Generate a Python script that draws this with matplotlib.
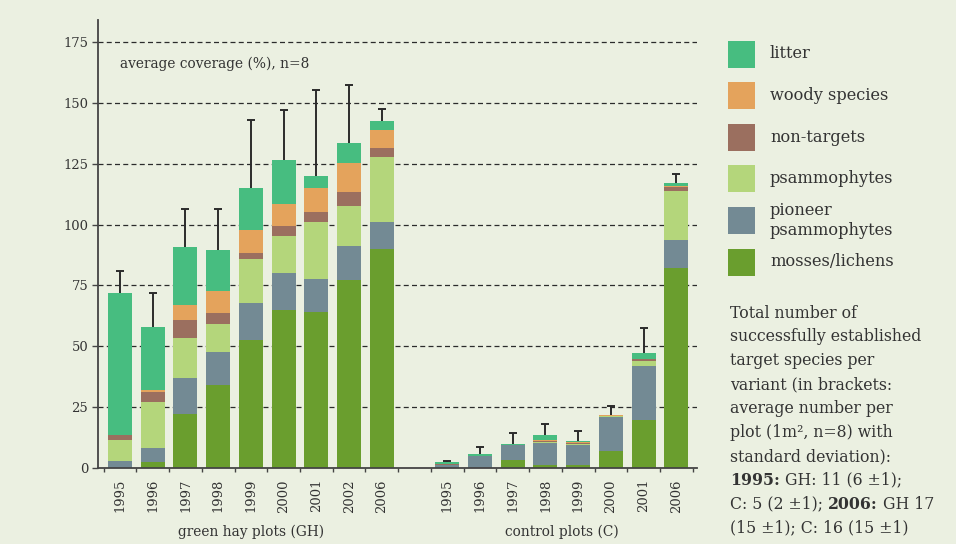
import matplotlib
matplotlib.use("Agg")
import matplotlib.pyplot as plt
from matplotlib import font_manager
from matplotlib.patches import Rectangle

# data (coverage in %, stacked bottom -> top)
gh_years = ["1995", "1996", "1997", "1998", "1999", "2000", "2001", "2002", "2006"]
c_years = ["1995", "1996", "1997", "1998", "1999", "2000", "2001", "2006"]

gh_mosses = [0.0, 2.5, 22.3, 34.1, 52.7, 65.0, 64.2, 77.4, 90.0]
gh_pioneer = [2.9, 5.7, 14.7, 13.6, 15.1, 15.1, 13.4, 13.8, 11.1]
gh_psamm = [8.6, 18.9, 16.4, 11.5, 18.1, 15.2, 23.5, 16.4, 26.7]
gh_nontarget = [2.1, 4.3, 7.4, 4.5, 2.4, 4.1, 4.1, 5.8, 3.7]
gh_woody = [0.0, 0.8, 6.2, 9.0, 9.5, 9.1, 9.8, 11.9, 7.4]
gh_litter = [58.2, 25.7, 23.8, 16.9, 17.2, 18.0, 5.0, 8.2, 3.7]
gh_sd = [9.2, 14.1, 15.7, 16.7, 27.8, 20.5, 35.2, 23.7, 4.9]

c_mosses = [0.0, 0.0, 3.3, 1.1, 1.1, 7.0, 19.7, 82.3]
c_pioneer = [1.2, 4.9, 6.1, 9.2, 8.3, 14.0, 22.2, 11.4]
c_psamm = [0.0, 0.0, 0.0, 0.5, 0.5, 0.3, 2.1, 20.1]
c_nontarget = [0.6, 0.0, 0.0, 0.2, 0.2, 0.1, 0.8, 1.8]
c_woody = [0.0, 0.0, 0.0, 0.3, 0.5, 0.3, 0.1, 0.4]
c_litter = [0.7, 0.8, 0.4, 2.3, 0.5, 0.1, 2.3, 1.1]
c_sd = [0.2, 2.8, 4.6, 4.6, 4.1, 3.8, 10.5, 3.7]

legend_labels = ["litter", "woody species", "non-targets", "psammophytes",
                 "pioneer\npsammophytes", "mosses/lichens"]

BG = "#ebf0e1"
TXT = "#333333"
col_mosses = "#6a9e2e"
col_pioneer = "#738a94"
col_psamm = "#b4d67b"
col_nontarget = "#9b6f5f"
col_woody = "#e4a35c"
col_litter = "#47bd80"

names = {f.name for f in font_manager.fontManager.ttflist}
if "DejaVu Serif Condensed" in names:
    SERIF = "DejaVu Serif Condensed"
    k = 1.0
else:
    SERIF = "DejaVu Serif"
    k = 0.9
plt.rcParams["font.family"] = [SERIF, "DejaVu Serif"]

fig = plt.figure(figsize=(9.56, 5.44), dpi=100, facecolor=BG)
ax = fig.add_axes([98 / 956, 76 / 544, (697 - 98) / 956, 448 / 544])
ax.set_facecolor(BG)

gh_x = list(range(len(gh_years)))
c_x = [10 + i for i in range(len(c_years))]
xs = gh_x + c_x
layers = [
    (gh_mosses + c_mosses, col_mosses),
    (gh_pioneer + c_pioneer, col_pioneer),
    (gh_psamm + c_psamm, col_psamm),
    (gh_nontarget + c_nontarget, col_nontarget),
    (gh_woody + c_woody, col_woody),
    (gh_litter + c_litter, col_litter),
]
bottom = [0.0] * len(xs)
for vals, col in layers:
    ax.bar(xs, vals, width=0.733, bottom=bottom, color=col, linewidth=0, zorder=3)
    bottom = [b + v for b, v in zip(bottom, vals)]

# one-sided error bars: line up from the stack top, cap only at the upper end
sd = gh_sd + c_sd
tops = [b + s for b, s in zip(bottom, sd)]
ax.vlines(xs, bottom, tops, color="#2b2b2b", lw=1.4, zorder=4)
ax.plot(xs, tops, linestyle="none", marker="_", markersize=5.5, markeredgewidth=1.4,
        color="#2b2b2b", zorder=4)

for yv in [25, 50, 75, 100, 125, 150, 175]:
    ax.axhline(yv, color="#2b2b2b", lw=0.9, linestyle=(0, (4, 2.6)), zorder=1)

ax.set_xlim(-0.672, 17.63)
ax.set_ylim(0, 184)
ax.set_yticks([0, 25, 50, 75, 100, 125, 150, 175])
ax.set_xticks(xs)
ax.set_xticklabels(gh_years + c_years, rotation=90, fontsize=10.5 * k, color=TXT)
ax.tick_params(axis="x", which="major", length=0, pad=8)
ax.set_xticks([i - 0.5 for i in range(10)] + [i + 9.5 for i in range(9)], minor=True)
ax.tick_params(axis="x", which="minor", length=3, width=1, color="#444444", direction="out")
ax.tick_params(axis="y", length=4, width=1, color="#444444", labelsize=10.5 * k,
               labelcolor=TXT, pad=3)
for s in ["top", "right"]:
    ax.spines[s].set_visible(False)
for s in ["left", "bottom"]:
    ax.spines[s].set_color("#444444")
    ax.spines[s].set_linewidth(1.3)
    ax.spines[s].set_zorder(5)

ax.text(0.0, 166, "average coverage (%), n=8", fontsize=11 * k, color=TXT, va="center")
ax.text(4, -0.143, "green hay plots (GH)", transform=ax.get_xaxis_transform(),
        ha="center", va="center", fontsize=11 * k, color=TXT)
ax.text(13.5, -0.143, "control plots (C)", transform=ax.get_xaxis_transform(),
        ha="center", va="center", fontsize=11 * k, color=TXT)

# legend and side note drawn in pixel coordinates
ov = fig.add_axes([0, 0, 1, 1])
ov.set_xlim(0, 956)
ov.set_ylim(544, 0)
ov.axis("off")

leg_cols = [col_litter, col_woody, col_nontarget, col_psamm, col_pioneer, col_mosses]
for i, (lab, col) in enumerate(zip(legend_labels, leg_cols)):
    yc = 54 + 41.6 * i
    ov.add_patch(Rectangle((728, yc - 13.5), 27, 27, color=col, lw=0))
    ov.text(770, yc, lab, fontsize=13 * k, color=TXT, va="center", linespacing=1.2)

note = [
    [("Total number of", "normal")],
    [("successfully established", "normal")],
    [("target species per", "normal")],
    [("variant (in brackets:", "normal")],
    [("average number per", "normal")],
    [("plot (1m², n=8) with", "normal")],
    [("standard deviation):", "normal")],
    [("1995:", "bold"), (" GH: 11 (6 ±1);", "normal")],
    [("C: 5 (2 ±1); ", "normal"), ("2006:", "bold"), (" GH 17", "normal")],
    [("(15 ±1); C: 16 (15 ±1)", "normal")],
]
NOTE_FS = 12.6 * k
r = fig.canvas.get_renderer()


def advance(s, w):
    t1 = ov.text(0, 0, "|" + s + "|", fontsize=NOTE_FS, fontweight=w)
    t2 = ov.text(0, 0, "||", fontsize=NOTE_FS, fontweight=w)
    a = t1.get_window_extent(renderer=r).width - t2.get_window_extent(renderer=r).width
    t1.remove()
    t2.remove()
    return a


for i, runs in enumerate(note):
    x = 730
    y = 317.5 + 23.9 * i
    for s, w in runs:
        ov.text(x, y, s, fontsize=NOTE_FS, fontweight=w, color=TXT, va="baseline")
        x += advance(s, w)

fig.savefig("out.png", dpi=100, facecolor=BG)
